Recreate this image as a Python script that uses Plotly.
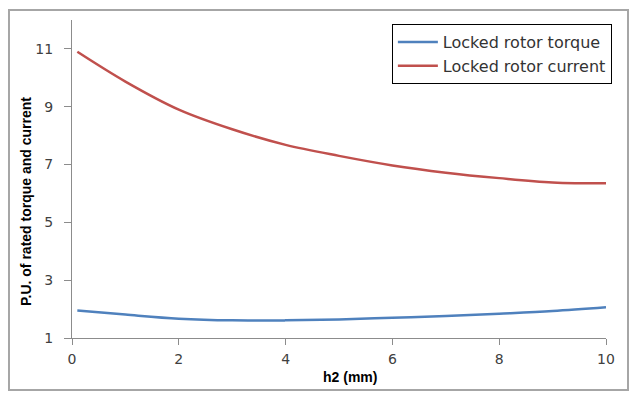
import plotly.graph_objects as go

h2_mm = [0.1, 1, 2, 3, 4, 5, 6, 7, 8, 9, 10]
locked_rotor_torque = [1.95, 1.81, 1.67, 1.61, 1.61, 1.64, 1.70, 1.76, 1.84, 1.93, 2.06]
locked_rotor_current = [10.9, 9.87, 8.9, 8.22, 7.68, 7.3, 6.97, 6.72, 6.53, 6.38, 6.35]

x_ticks = [0, 2, 4, 6, 8, 10]
y_ticks = [1, 3, 5, 7, 9, 11]

TICK_FONT = dict(family="DejaVu Sans", size=14, color="#404040")

fig = go.Figure()
fig.add_trace(go.Scatter(x=h2_mm, y=locked_rotor_torque, mode="lines",
                         name="Locked rotor torque",
                         line=dict(color="#4F81BD", width=2.5, shape="spline")))
fig.add_trace(go.Scatter(x=h2_mm, y=locked_rotor_current, mode="lines",
                         name="Locked rotor current",
                         line=dict(color="#C0504D", width=2.5, shape="spline")))

fig.update_layout(
    width=637, height=398,
    margin=dict(l=64, r=39, t=12, b=68, autoexpand=False),
    paper_bgcolor="white", plot_bgcolor="white",
    showlegend=True,
    legend=dict(x=1.011, y=0.987, xanchor="right", yanchor="top",
                bgcolor="white", bordercolor="black", borderwidth=1,
                font=dict(family="DejaVu Sans", size=16, color="#333333"),
                itemwidth=40, tracegroupgap=0),
    xaxis=dict(range=[0, 10], tickvals=x_ticks, showgrid=False, zeroline=False,
               showline=True, linecolor="#8c8c8c", linewidth=1,
               ticks="outside", ticklen=6, tickcolor="#8c8c8c",
               tickfont=TICK_FONT, ticklabelstandoff=2),
    yaxis=dict(range=[1, 12], tickvals=y_ticks, showgrid=False, zeroline=False,
               showline=True, linecolor="#8c8c8c", linewidth=1,
               ticks="outside", ticklen=7, tickcolor="#8c8c8c",
               tickfont=TICK_FONT, ticklabelstandoff=8),
    shapes=[dict(type="rect", xref="paper", yref="paper",
                 x0=-0.118, x1=1.0412, y0=-0.1635, y1=1.0314,
                 line=dict(color="#a6a6a6", width=2), fillcolor="rgba(0,0,0,0)")],
    annotations=[
        dict(text="<b>h2 (mm)</b>", xref="paper", yref="paper",
             x=(350 - 72) / 534, y=(338 - 377) / 318, xanchor="center", yanchor="middle",
             showarrow=False, font=dict(family="Liberation Sans", size=14, color="black")),
        dict(text="<b>P.U. of rated torque and current</b>", xref="paper", yref="paper",
             x=(26 - 72) / 534, y=(338 - 202) / 318, xanchor="center", yanchor="middle",
             textangle=-90, showarrow=False,
             font=dict(family="Liberation Sans", size=14, color="black")),
    ],
)

fig.write_html("out.html")
